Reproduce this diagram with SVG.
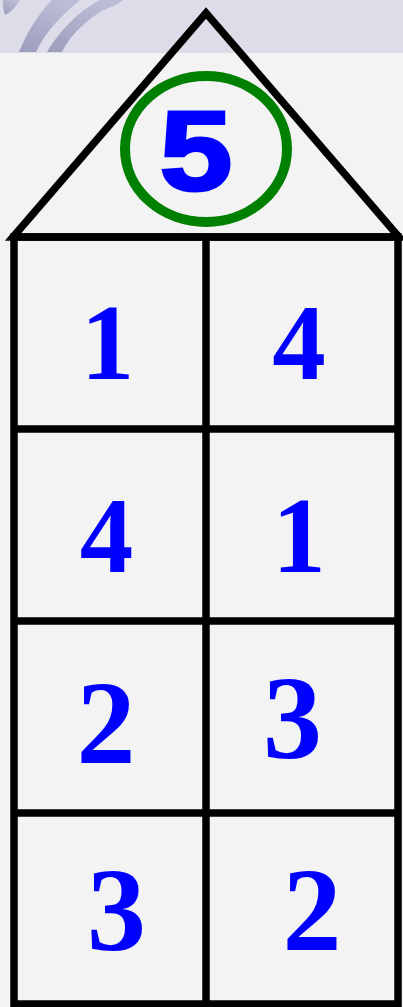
<svg xmlns="http://www.w3.org/2000/svg" width="403" height="1007" viewBox="0 0 403 1007">
<style>
.line{fill:none;stroke:#000;stroke-width:7.5;stroke-linejoin:miter}
.num{font-family:"Liberation Serif","Times New Roman",serif;font-weight:bold;fill:#0000ff;text-anchor:middle}
.small{font-size:107px}
.big{font-size:118px}
.stripe{fill:#a6a6c4}
</style>
<defs>
<linearGradient id="sg" x1="0" y1="1" x2="0.6" y2="0">
<stop offset="0" stop-color="#9c9cbc"/>
<stop offset="1" stop-color="#bcbcd6"/>
</linearGradient>
</defs>
<g id="background">
<rect x="0" y="0" width="403" height="1007" fill="#f3f3f3"/>
<rect x="0" y="0" width="403" height="53" fill="#dddde9"/>
<path fill="url(#sg)" d="M19,52 C28,30 40,12 52,0 L80,0 C62,15 45,32 36,52 Z"/>
<path fill="url(#sg)" d="M47,52 C60,30 80,10 100,0 L123,0 C118,5 108,8 100,12 C85,22 70,35 62,52 Z"/>
<path fill="url(#sg)" d="M3,0 L20,0 C15,8 10,13 5,15 C3,10 3,5 3,0 Z"/>
</g>
<g id="roof">
<polygon class="line" points="13,237 206,13 399,237"/>
</g>
<g id="top-number">
<ellipse cx="206" cy="149" rx="81" ry="73" fill="none" stroke="#008000" stroke-width="10"/>
<text transform="translate(196,190) scale(1.15,1)" x="0" y="0" text-anchor="middle" font-family="Liberation Sans, Arial, sans-serif" font-weight="bold" font-size="114" fill="#0000ff" stroke="#0000ff" stroke-width="3">5</text>
</g>
<g id="connectors">
<rect class="line" x="14" y="237" width="384" height="767"/>
<line class="line" x1="206" y1="237" x2="206" y2="1004"/>
<line class="line" x1="14" y1="429" x2="398" y2="429"/>
<line class="line" x1="14" y1="621" x2="398" y2="621"/>
<line class="line" x1="14" y1="813" x2="398" y2="813"/>
</g>
<g id="cell-r1c1"><text class="num small" x="107.5" y="379">1</text></g>
<g id="cell-r1c2"><text class="num small" x="299" y="379">4</text></g>
<g id="cell-r2c1"><text class="num small" x="106.5" y="572">4</text></g>
<g id="cell-r2c2"><text class="num small" x="299" y="572">1</text></g>
<g id="cell-r3c1"><text class="num big" x="106" y="763">2</text></g>
<g id="cell-r3c2"><text class="num big" x="292.5" y="758">3</text></g>
<g id="cell-r4c1"><text class="num big" x="116.5" y="950">3</text></g>
<g id="cell-r4c2"><text class="num big" x="312" y="950">2</text></g>
</svg>
